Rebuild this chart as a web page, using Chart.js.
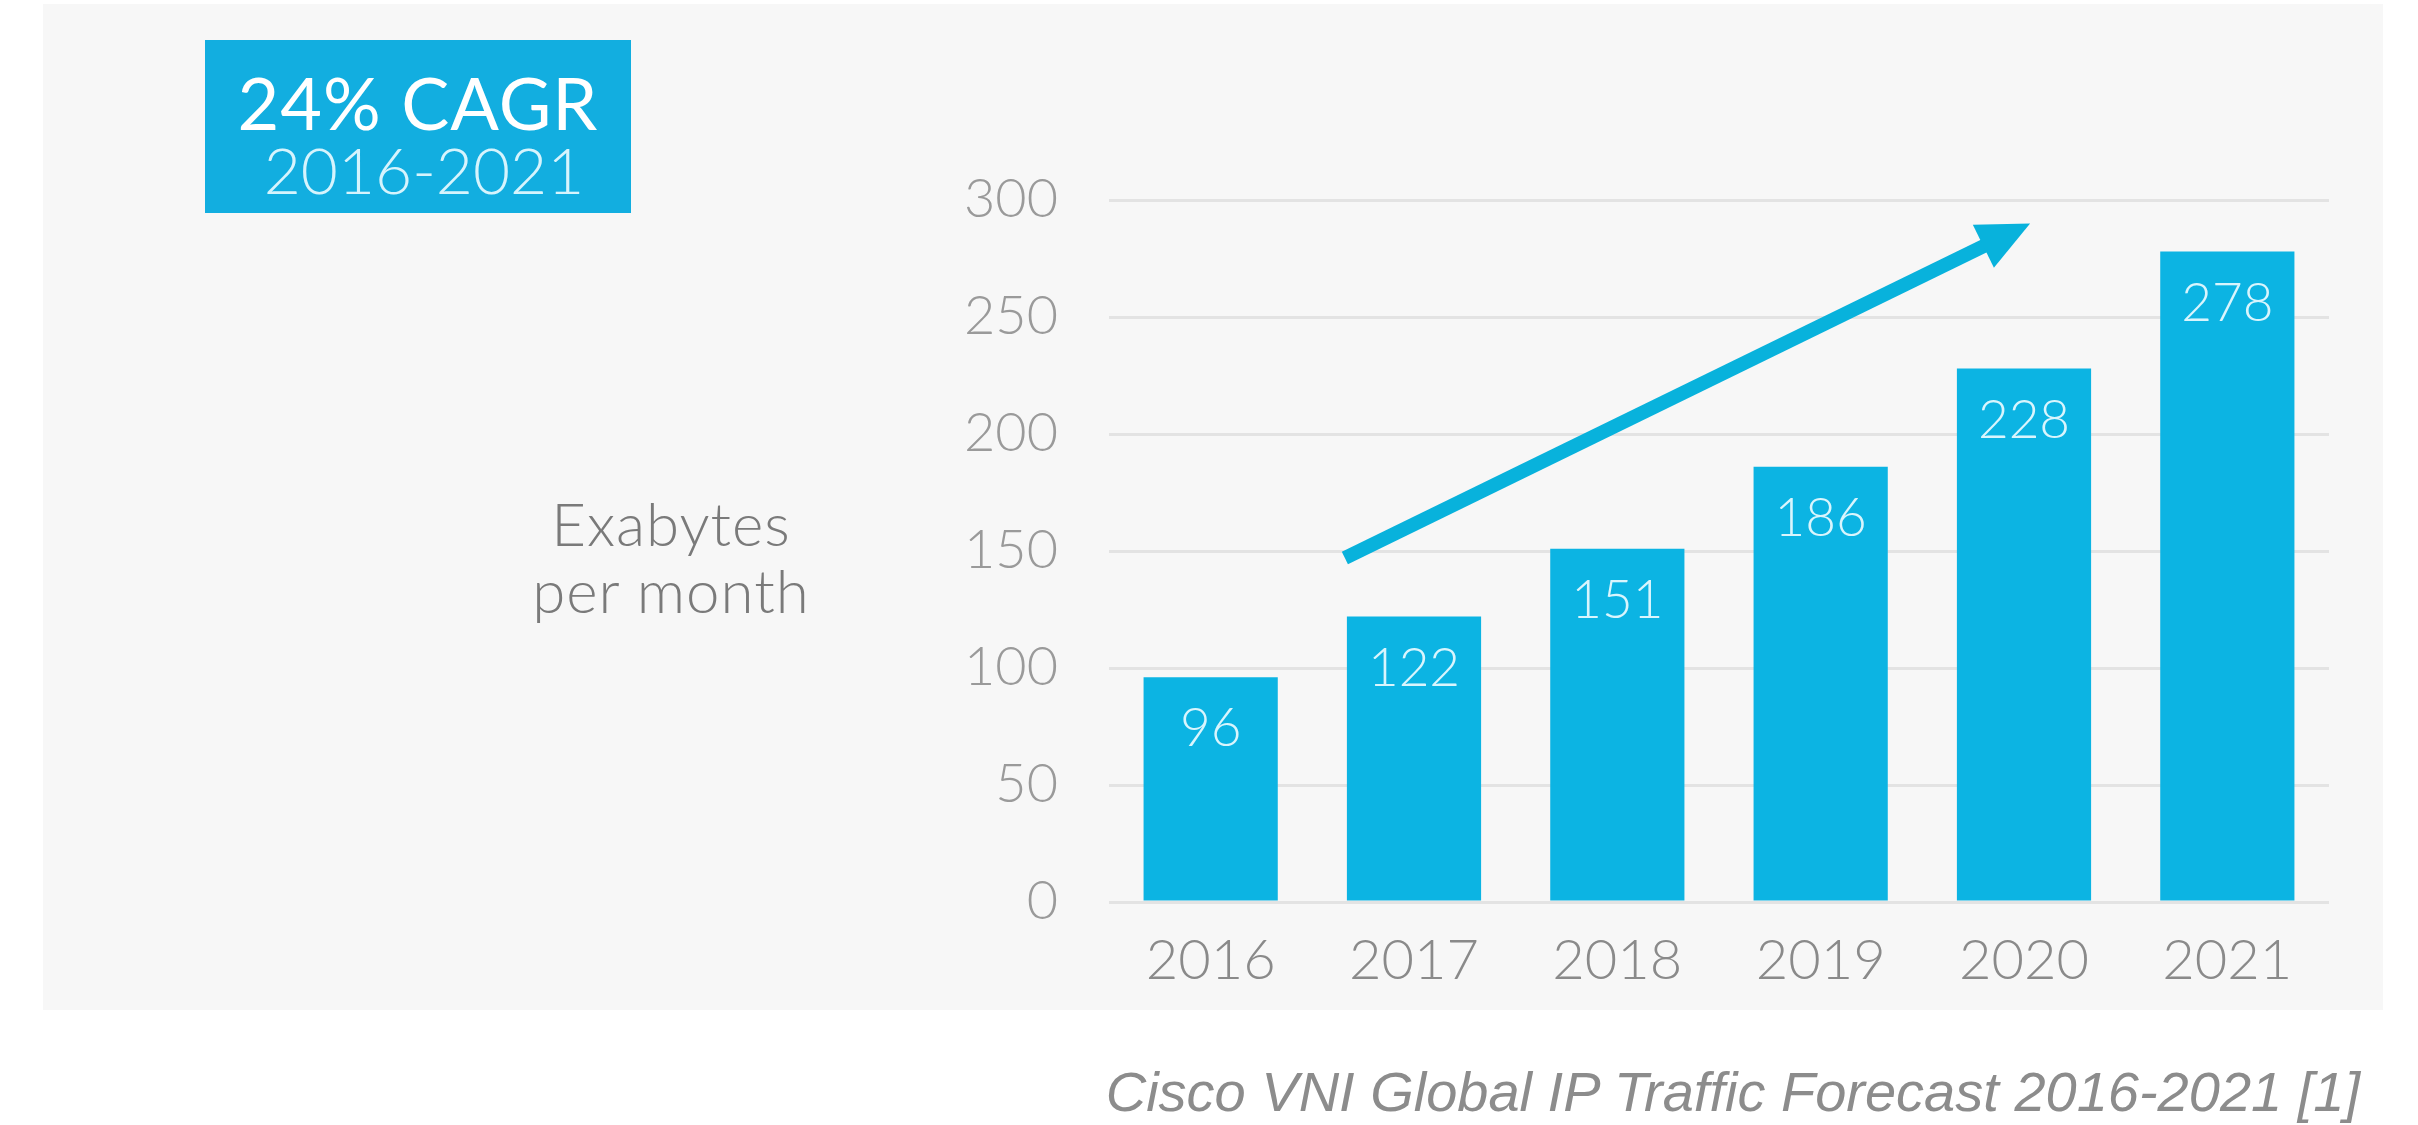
<!DOCTYPE html>
<html>
<head>
<meta charset="utf-8">
<script src="https://cdn.jsdelivr.net/npm/chart.js@4"></script>
<style>
    html, body { margin: 0; padding: 0; background: #ffffff; }
    #page { position: relative; width: 2418px; height: 1125px; overflow: hidden; font-family: Lato, "Open Sans", sans-serif; }
    #panel { position: absolute; left: 43px; top: 4px; width: 2340px; height: 1006px; background: #f7f7f7; }
    #chartBox { position: absolute; left: 0; top: 0; width: 2418px; height: 1125px; }
    #cagr { position: absolute; left: 205px; top: 40px; width: 426px; height: 173px; background: #12aee0; color: #fff; text-align: center; }
    #cagr .big { position: absolute; left: 0; right: 0; top: 62px; line-height: 0; font-size: 72px; font-weight: 400; letter-spacing: 1px; }
    #cagr .small { position: absolute; left: 0; right: 0; top: 130px; line-height: 0; font-size: 64px; font-weight: 300; color: #d6f4fd; padding-left: 12px; }
    #unit { position: absolute; left: 471px; width: 400px; top: 490px; text-align: center; font-size: 60px; font-weight: 300; line-height: 67px; letter-spacing: 1px; color: #7a7a7a; }
    #source { position: absolute; right: 58px; top: 1064px; font-family: "Liberation Sans", Arial, sans-serif; font-style: italic; font-size: 56px; line-height: 1; color: #8c8c8c; white-space: nowrap; }
</style>
</head>
<body>
<div id="page">
    <div id="panel"></div>
    <div id="cagr"><div class="big">24% CAGR</div><div class="small">2016-2021</div></div>
    <div id="unit">Exabytes<br>per month</div>
    <div id="chartBox"><canvas id="trafficChart"></canvas></div>
    <div id="source">Cisco VNI Global IP Traffic Forecast 2016-2021 [1]</div>
</div>
<script>
// --- DATA ---
const years = ['2016', '2017', '2018', '2019', '2020', '2021'];
const traffic = [96, 122, 151, 186, 228, 278];
const yTicks = [0, 50, 100, 150, 200, 250, 300];
// arrow annotation: [category index, value]
const arrowFrom = [0.66, 147];
const arrowTo = [4.03, 290];

const BAR_COLOR = '#0cb4e3';
const ARROW_COLOR = '#08b2dc';

// labels inside the bars
const valueLabels = {
    id: 'valueLabels',
    afterDatasetsDraw(chart) {
        const ctx = chart.ctx;
        const meta = chart.getDatasetMeta(0);
        ctx.save();
        ctx.fillStyle = '#d9f5fd';
        ctx.font = '300 53px Lato, "Open Sans", sans-serif';
        ctx.textAlign = 'center';
        ctx.textBaseline = 'middle';
        meta.data.forEach((bar, i) => {
            ctx.fillText(String(traffic[i]), bar.x, bar.y + 52);
        });
        ctx.restore();
    }
};

// growth arrow
const growthArrow = {
    id: 'growthArrow',
    afterDatasetsDraw(chart) {
        const { ctx, scales: { x, y } } = chart;
        const x0 = x.getPixelForValue(arrowFrom[0]), y0 = y.getPixelForValue(arrowFrom[1]);
        const x1 = x.getPixelForValue(arrowTo[0]), y1 = y.getPixelForValue(arrowTo[1]);
        const ang = Math.atan2(y1 - y0, x1 - x0);
        const headLen = 52, headHalf = 24;
        const bx = x1 - headLen * Math.cos(ang), by = y1 - headLen * Math.sin(ang);
        ctx.save();
        ctx.strokeStyle = ARROW_COLOR;
        ctx.fillStyle = ARROW_COLOR;
        ctx.lineWidth = 14;
        ctx.lineCap = 'butt';
        ctx.beginPath();
        ctx.moveTo(x0, y0);
        ctx.lineTo(bx + 4 * Math.cos(ang), by + 4 * Math.sin(ang));
        ctx.stroke();
        ctx.beginPath();
        ctx.moveTo(x1, y1);
        ctx.lineTo(bx + headHalf * Math.sin(ang), by - headHalf * Math.cos(ang));
        ctx.lineTo(bx - headHalf * Math.sin(ang), by + headHalf * Math.cos(ang));
        ctx.closePath();
        ctx.fill();
        ctx.restore();
    }
};

const ctx = document.getElementById('trafficChart').getContext('2d');
new Chart(ctx, {
    type: 'bar',
    data: {
        labels: years,
        datasets: [{
            data: traffic,
            backgroundColor: BAR_COLOR,
            borderWidth: 0,
            categoryPercentage: 1,
            barPercentage: 0.66
        }]
    },
    options: {
        responsive: true,
        maintainAspectRatio: false,
        animation: false,
        layout: { padding: { left: 0, right: 89, top: 200, bottom: 0 } },
        plugins: { legend: { display: false }, tooltip: { enabled: false } },
        scales: {
            x: {
                grid: { display: false, drawTicks: false },
                border: { display: false },
                ticks: { color: '#8a8a8a', padding: 25, font: { family: 'Lato, "Open Sans", sans-serif', size: 56, weight: '300' } },
                afterFit(scale) { scale.height = 223; scale.paddingLeft = 0; scale.paddingRight = 0; }
            },
            y: {
                min: 0,
                max: 300,
                afterBuildTicks(scale) { scale.ticks = yTicks.map(v => ({ value: v })); },
                grid: { color: '#e3e3e3', lineWidth: 3, drawTicks: false },
                border: { display: false },
                ticks: { color: '#9a9a9a', padding: 51, font: { family: 'Lato, "Open Sans", sans-serif', size: 54, weight: '300' } },
                afterFit(scale) { scale.width = 1109; scale.paddingTop = 0; scale.paddingBottom = 0; }
            }
        }
    },
    plugins: [valueLabels, growthArrow]
});
</script>
</body>
</html>
